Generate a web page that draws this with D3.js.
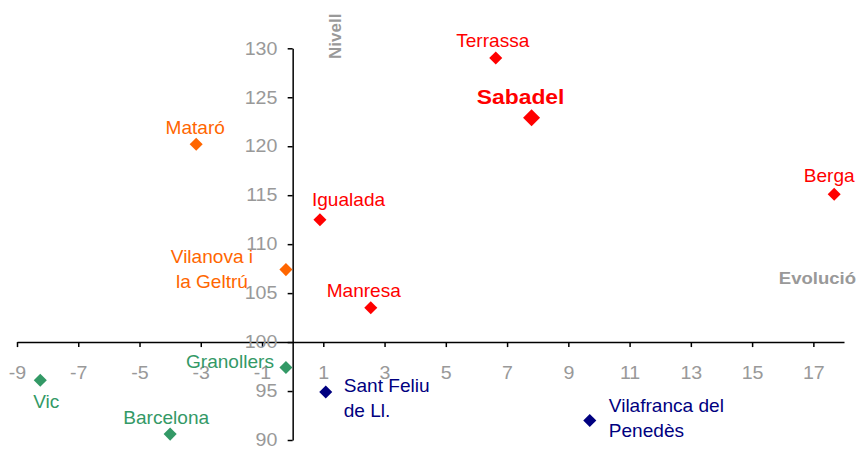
<!DOCTYPE html>
<html><head><meta charset="utf-8">
<script src="https://cdn.jsdelivr.net/npm/d3@7"></script>
<style>body{margin:0;background:#fff}svg{display:block;font-family:"Liberation Sans",Arial,sans-serif}</style>
</head><body><svg id="c" width="858" height="451"></svg>
<script>
const cities = ["Terrassa","Sabadel","Mataró","Berga","Igualada","Vilanova i\nla Geltrú","Manresa","Granollers","Vic","Barcelona","Sant Feliu\nde Ll.","Vilafranca del\nPenedès"];
const evolucio = [6.63, 7.8, -3.15, 17.68, 0.89, -0.22, 2.55, -0.22, -8.24, -4.0, 1.08, 9.7];
const nivell = [129.0, 122.9, 120.2, 115.1, 112.5, 107.4, 103.5, 97.4, 96.1, 90.6, 94.9, 92.0];
const groups = ["red","red","orange","red","red","orange","red","green","green","green","navy","navy"];
const xTicks = [-9,-7,-5,-3,-1,1,3,5,7,9,11,13,15,17];
const yTicks = [90,95,100,105,110,115,120,125,130];
const colors = {red:"#FF0000", orange:"#FF6600", green:"#339966", navy:"#000080"};
// label layout: [dx, dy of first baseline, anchor]
const labelLayout = [[-3,-11,"middle"],[-11,-14,"middle"],[-1,-10,"middle"],[-5,-12,"middle"],[-8,-14,"start"],[-74,-7,"middle"],[-7,-11,"middle"],[-12,0,"end"],[6,28,"middle"],[-4,-10,"middle"],[18,0,"start"],[19,-8,"start"]];

const SX = 1.09;
const svg = d3.select("#c");
const x = d3.scaleLinear().domain([-9,18]).range([17,844]);
const y = d3.scaleLinear().domain([90,130]).range([440,48.3]);

function txt(px, py, s, opts){
  const t = svg.append("text").attr("transform",`translate(${px},${py}) scale(${SX},1)`)
    .attr("text-anchor",opts.anchor||"start").attr("font-size",opts.size||18)
    .attr("font-weight",opts.bold?"bold":"normal").attr("fill",opts.fill||"#000");
  s.split("\n").forEach((ln,k)=>t.append("tspan").attr("x",0).attr("y",k*25).text(ln));
  return t;
}

txt(430,-4,"Catalunya = 100",{anchor:"middle",size:17,bold:true});

const xa = svg.append("g").attr("transform",`translate(0,${y(100)})`)
  .call(d3.axisBottom(x).tickValues(xTicks).tickSize(5).tickSizeOuter(0).tickFormat(d=>String(d)));
const ya = svg.append("g").attr("transform",`translate(${x(0)},0)`)
  .call(d3.axisLeft(y).tickValues(yTicks).tickSize(5).tickSizeOuter(0).tickFormat(d=>String(d)));
[xa,ya].forEach(a=>{
  a.select(".domain").attr("stroke","#000").attr("stroke-width",1.5);
  a.selectAll(".tick line").attr("stroke","#000").attr("stroke-width",1.5);
  a.selectAll(".tick text").attr("fill","#999").attr("font-size",18)
    .attr("font-family","Liberation Sans, Arial, sans-serif");
});
xa.selectAll(".tick text").attr("y",37).attr("dy",0).attr("transform",`scale(${SX},1)`);
ya.selectAll(".tick text").attr("x",-14).attr("transform",`scale(${SX},1)`);

svg.append("text").attr("transform",`translate(341,59) rotate(-90)`)
  .attr("font-size",17).attr("font-weight","bold").attr("fill","#999").text("Nivell");
txt(856,284,"Evolució",{anchor:"end",size:17,bold:true,fill:"#999"});

const sym = d3.symbol().type(d3.symbolSquare);
cities.forEach((c,i)=>{
  const cx = x(evolucio[i]), cy = y(nivell[i]);
  const big = c==="Sabadel";
  svg.append("path").attr("d", sym.size(big?144:85)()).attr("transform",`translate(${cx},${cy}) rotate(45)`)
    .attr("fill",colors[groups[i]]);
  const L = labelLayout[i];
  txt(cx+L[0], cy+L[1], c, {anchor:L[2], size:big?21:17.5, bold:big, fill:colors[groups[i]]});
});
</script></body></html>
